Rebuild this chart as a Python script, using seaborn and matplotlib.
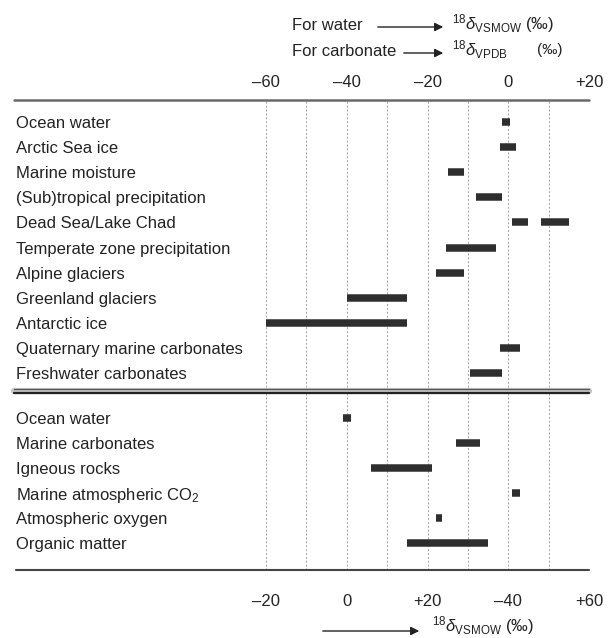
import matplotlib
matplotlib.use("Agg")
import matplotlib.pyplot as plt
import matplotlib.transforms as mtransforms
from matplotlib.lines import Line2D
from matplotlib.patches import FancyArrowPatch
import numpy as np
import pandas as pd
import seaborn as sns

# upper panel: water and carbonate, scale -60 .. +20 permil
top_rows = ["Ocean water", "Arctic Sea ice", "Marine moisture",
            "(Sub)tropical precipitation", "Dead Sea/Lake Chad",
            "Temperate zone precipitation", "Alpine glaciers",
            "Greenland glaciers", "Antarctic ice",
            "Quaternary marine carbonates", "Freshwater carbonates"]
# Dead Sea/Lake Chad has two separate ranges
top_seg_row = ["Ocean water", "Arctic Sea ice", "Marine moisture",
               "(Sub)tropical precipitation", "Dead Sea/Lake Chad",
               "Dead Sea/Lake Chad", "Temperate zone precipitation",
               "Alpine glaciers", "Greenland glaciers", "Antarctic ice",
               "Quaternary marine carbonates", "Freshwater carbonates"]
top_lo = [-1.5, -2, -15, -8, 1, 8, -15.5, -18, -40, -60, -2, -9.5]
top_hi = [0.5, 2, -11, -1.5, 5, 15, -3, -11, -25, -25, 3, -1.5]
top_ticks = [-60, -40, -20, 0, 20]
top_ticklabels = ["\u201360", "\u201340", "\u201320", "0", "+20"]

# lower panel: other materials, scale -20 .. +60 permil
bot_rows = ["Ocean water", "Marine carbonates", "Igneous rocks",
            "Marine atmospheric CO$_2$", "Atmospheric oxygen", "Organic matter"]
bot_lo = [-1, 27, 6, 41, 22, 15]
bot_hi = [1, 33, 21, 43, 23.5, 35]
bot_ticks = [-20, 0, 20, 40, 60]
bot_ticklabels = ["\u201320", "0", "+20", "\u201340", "+60"]

sns.set_theme(style="white")
plt.rcParams['font.family'] = ['Liberation Sans', 'DejaVu Sans']
plt.rcParams['mathtext.fontset'] = 'custom'
plt.rcParams['mathtext.rm'] = 'Liberation Sans'
plt.rcParams['mathtext.it'] = 'Liberation Sans:italic'
plt.rcParams['mathtext.bf'] = 'Liberation Sans:bold'

W, H = 612, 638
TXT = "#222222"
BAR = "#2e2e2e"
fig = plt.figure(figsize=(W / 100, H / 100), dpi=100)


def fx(px):
    return px / W


def fy(py):
    return 1 - py / H


def seg_frame(names, order, lo, hi):
    recs = []
    for k, (n, a, b) in enumerate(zip(names, lo, hi)):
        r = order.index(n)
        recs.append({"seg": k, "row": r, "delta": a})
        recs.append({"seg": k, "row": r, "delta": b})
    return pd.DataFrame(recs)


def panel(ax, df, rows, xlim, ylim, ticks, ticklabels, top):
    sns.lineplot(data=df, x="delta", y="row", units="seg", estimator=None,
                 color=BAR, lw=5.4, solid_capstyle="butt", ax=ax, legend=False)
    ax.set(xlabel="", ylabel="", xlim=xlim, ylim=ylim)
    ax.set_yticks([])
    ax.set_xticks(ticks)
    ax.set_xticks(np.arange(xlim[0], xlim[1] + 1, 10), minor=True)
    ax.grid(axis="x", which="both", color="#a0a0a0", lw=0.7, ls=(0, (2, 2)))
    ax.set_axisbelow(True)
    for s in ax.spines.values():
        s.set_visible(False)
    if top:
        ax.xaxis.tick_top()
        ax.tick_params(axis="x", which="both", length=0, pad=7, labelsize=12, labelcolor=TXT)
    else:
        ax.tick_params(axis="x", which="both", length=0, pad=17, labelsize=12, labelcolor=TXT)
    ax.set_xticklabels(ticklabels)
    trans = mtransforms.blended_transform_factory(fig.transFigure, ax.transData)
    for i, name in enumerate(rows):
        ax.text(fx(16), i, name, transform=trans, ha="left", va="center_baseline",
                fontsize=12, color=TXT, clip_on=False)


x0, x1 = 266, 589
ax_top = fig.add_axes([fx(x0), fy(391), fx(x1) - fx(x0), fy(100) - fy(391)])
ax_bot = fig.add_axes([fx(x0), fy(570), fx(x1) - fx(x0), fy(391) - fy(570)])

panel(ax_top, seg_frame(top_seg_row, top_rows, top_lo, top_hi), top_rows,
      (-60, 20), (10.72, -0.88), top_ticks, top_ticklabels, True)
panel(ax_bot, seg_frame(bot_rows, bot_rows, bot_lo, bot_hi), bot_rows,
      (-20, 60), (6.08, -1.08), bot_ticks, bot_ticklabels, False)

# horizontal rules
fig.add_artist(Line2D([fx(14), fx(589)], [fy(100), fy(100)], color="#6a6a6a", lw=1.8))
fig.add_artist(Line2D([fx(14), fx(589)], [fy(391), fy(391)], color="#c4c4c4", lw=4.5))
fig.add_artist(Line2D([fx(14), fx(589)], [fy(388.5), fy(388.5)], color="#555555", lw=0.9))
fig.add_artist(Line2D([fx(14), fx(589)], [fy(392.5), fy(392.5)], color="#222222", lw=1.6))
fig.add_artist(Line2D([fx(16), fx(589)], [fy(570), fy(570)], color="#444444", lw=1.5))

# header
fig.text(fx(292), fy(25), "For water", fontsize=12, color=TXT, ha="left", va="center")
fig.text(fx(292), fy(51), "For carbonate", fontsize=12, color=TXT, ha="left", va="center")
for ystart, xstart in [(27, 375), (53, 401)]:
    fig.add_artist(FancyArrowPatch((fx(xstart), fy(ystart)), (fx(446), fy(ystart)),
                                   transform=fig.transFigure, arrowstyle="-|>,head_length=5,head_width=2.5",
                                   color="#222222", lw=1.0))
fig.text(fx(452), fy(24), r"$^{18}\delta_{\mathrm{VSMOW}}$ (" + "\u2030)",
         fontsize=12, color=TXT, ha="left", va="center")
fig.text(fx(452), fy(50), r"$^{18}\delta_{\mathrm{VPDB}}$", fontsize=12, color=TXT,
         ha="left", va="center")
fig.text(fx(537), fy(50), "(\u2030)", fontsize=11, color=TXT, ha="left", va="center")

# bottom axis caption
fig.add_artist(FancyArrowPatch((fx(320), fy(631)), (fx(422), fy(631)),
                               transform=fig.transFigure, arrowstyle="-|>,head_length=5,head_width=2.5",
                               color="#222222", lw=1.0))
fig.text(fx(432), fy(626), r"$^{18}\delta_{\mathrm{VSMOW}}$ (" + "\u2030)",
         fontsize=12, color=TXT, ha="left", va="center")

fig.savefig("out.png", dpi=100)
